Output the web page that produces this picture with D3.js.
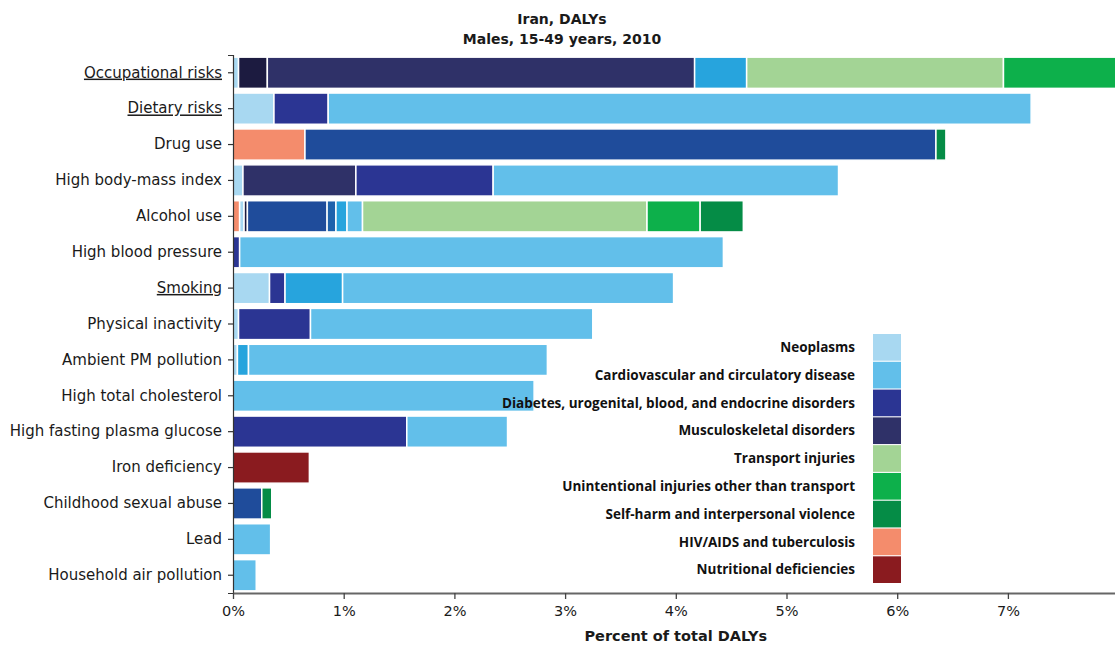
<!DOCTYPE html>
<html>
<head>
<meta charset="utf-8">
<script src="https://cdn.jsdelivr.net/npm/d3@7"></script>
<style>
  html, body { margin: 0; padding: 0; background: #fff; }
  svg { display: block; }
  .tick text { font-family: "DejaVu Sans", sans-serif; }
</style>
</head>
<body>
<svg id="chart" width="1115" height="646"></svg>
<script>
// Risk factors, top to bottom
const risks = [
  "Occupational risks", "Dietary risks", "Drug use", "High body-mass index",
  "Alcohol use", "High blood pressure", "Smoking", "Physical inactivity",
  "Ambient PM pollution", "High total cholesterol", "High fasting plasma glucose",
  "Iron deficiency", "Childhood sexual abuse", "Lead", "Household air pollution"
];
const underlined = ["Occupational risks", "Dietary risks", "Smoking"];

// Percent of total DALYs attributable to each risk, by cause group
const hivTb        = [0, 0, 0.65, 0, 0.06, 0, 0, 0, 0, 0, 0, 0, 0, 0, 0];
const neoplasms    = [0.05, 0.37, 0, 0.09, 0.04, 0, 0.33, 0.05, 0.04, 0, 0, 0, 0, 0, 0];
const otherNcd     = [0.26, 0, 0, 0, 0.03, 0, 0, 0, 0, 0, 0, 0, 0, 0, 0];
const mental       = [0, 0, 5.70, 0, 0.72, 0, 0, 0, 0, 0, 0, 0, 0.26, 0, 0];
const musculo      = [3.86, 0, 0, 1.02, 0, 0, 0, 0, 0, 0, 0, 0, 0, 0, 0];
const diabetes     = [0, 0.49, 0, 1.24, 0, 0.06, 0.14, 0.65, 0, 0, 1.57, 0, 0, 0, 0];
const cirrhosis    = [0, 0, 0, 0, 0.08, 0, 0, 0, 0, 0, 0, 0, 0, 0, 0];
const respiratory  = [0.47, 0, 0, 0, 0.10, 0, 0.52, 0, 0.10, 0, 0, 0, 0, 0, 0];
const cardio       = [0, 6.35, 0, 3.12, 0.14, 4.37, 2.99, 2.55, 2.70, 2.72, 0.91, 0, 0, 0.34, 0.21];
const transport    = [2.32, 0, 0, 0, 2.57, 0, 0, 0, 0, 0, 0, 0, 0, 0, 0];
const unintentional= [1.05, 0, 0, 0, 0.48, 0, 0, 0, 0, 0, 0, 0, 0, 0, 0];
const selfHarm     = [0, 0, 0.09, 0, 0.39, 0, 0, 0, 0, 0, 0, 0, 0.09, 0, 0];
const nutritional  = [0, 0, 0, 0, 0, 0, 0, 0, 0, 0, 0, 0.69, 0, 0, 0];

const xTicks = [0, 1, 2, 3, 4, 5, 6, 7];

// Cause groups in stacking order
const causes = [
  { key: "HIV/AIDS and tuberculosis", values: hivTb, color: "#f48c6c" },
  { key: "Neoplasms", values: neoplasms, color: "#a8d8f1" },
  { key: "Other non-communicable diseases", values: otherNcd, color: "#1c1b40" },
  { key: "Mental and behavioral disorders", values: mental, color: "#1f4c9b" },
  { key: "Musculoskeletal disorders", values: musculo, color: "#2f3168" },
  { key: "Diabetes, urogenital, blood, and endocrine disorders", values: diabetes, color: "#2b3593" },
  { key: "Cirrhosis", values: cirrhosis, color: "#1e62ac" },
  { key: "Chronic respiratory diseases", values: respiratory, color: "#27a4dd" },
  { key: "Cardiovascular and circulatory disease", values: cardio, color: "#62bfea" },
  { key: "Transport injuries", values: transport, color: "#a3d495" },
  { key: "Unintentional injuries other than transport", values: unintentional, color: "#0db04b" },
  { key: "Self-harm and interpersonal violence", values: selfHarm, color: "#058c46" },
  { key: "Nutritional deficiencies", values: nutritional, color: "#8a1b1f" }
];

const legendKeys = [
  "Neoplasms",
  "Cardiovascular and circulatory disease",
  "Diabetes, urogenital, blood, and endocrine disorders",
  "Musculoskeletal disorders",
  "Transport injuries",
  "Unintentional injuries other than transport",
  "Self-harm and interpersonal violence",
  "HIV/AIDS and tuberculosis",
  "Nutritional deficiencies"
];

const table = risks.map((r, i) => {
  const row = { risk: r };
  causes.forEach(c => { row[c.key] = c.values[i]; });
  return row;
});
const colorOf = new Map(causes.map(c => [c.key, c.color]));

const svg = d3.select("#chart");
const plotLeft = 233, plotTop = 55, plotBottom = 593;

const x = d3.scaleLinear().domain([0, 8]).range([plotLeft, plotLeft + 8 * 110.7]);
const y = d3.scaleBand().domain(risks).range([plotTop, plotBottom])
  .paddingInner(0.13).paddingOuter(0.06);

const stack = d3.stack().keys(causes.map(c => c.key));
const series = stack(table);

// Bars
const gBars = svg.append("g");
gBars.selectAll("g")
  .data(series)
  .join("g")
  .attr("fill", d => colorOf.get(d.key))
  .selectAll("rect")
  .data(d => d.filter(s => s[1] - s[0] > 0))
  .join("rect")
  .attr("x", d => x(d[0]))
  .attr("y", d => y(d.data.risk))
  .attr("width", d => x(d[1]) - x(d[0]))
  .attr("height", y.bandwidth())
  .attr("stroke", "#ffffff")
  .attr("stroke-width", 1.5);

// Y axis
const yAxis = svg.append("g")
  .attr("transform", `translate(${plotLeft},0)`)
  .call(d3.axisLeft(y).tickSize(5).tickSizeOuter(5).tickPadding(6));
yAxis.selectAll("text")
  .attr("font-size", 15)
  .attr("fill", "#1a1a1a")
  .style("text-decoration", d => underlined.includes(d) ? "underline" : null);
yAxis.selectAll("path, line").attr("stroke", "#333").attr("stroke-width", 1.2);

// X axis
const xAxis = svg.append("g")
  .attr("transform", `translate(0,${plotBottom})`)
  .call(d3.axisBottom(x).tickValues(xTicks).tickFormat(d => d + "%")
    .tickSize(6).tickSizeOuter(0).tickPadding(7));
xAxis.selectAll("text").attr("font-size", 14.5).attr("fill", "#1a1a1a");
xAxis.select(".domain").attr("stroke", "#666").attr("stroke-width", 2.2);
xAxis.selectAll(".tick line").attr("stroke", "#444").attr("stroke-width", 1.3);

// Axis title
svg.append("text")
  .attr("x", (x.range()[0] + x.range()[1]) / 2)
  .attr("y", 641)
  .attr("text-anchor", "middle")
  .attr("font-family", "DejaVu Sans, sans-serif")
  .attr("font-weight", "bold")
  .attr("font-size", 14.5)
  .attr("fill", "#1a1a1a")
  .text("Percent of total DALYs");

// Title
const title = svg.append("g")
  .attr("font-family", "DejaVu Sans, sans-serif")
  .attr("font-weight", "bold")
  .attr("font-size", 14)
  .attr("fill", "#1a1a1a")
  .attr("text-anchor", "middle");
title.append("text").attr("x", 562).attr("y", 24).text("Iran, DALYs");
title.append("text").attr("x", 562).attr("y", 44).text("Males, 15-49 years, 2010");

// Legend
const ly = d3.scaleBand().domain(legendKeys).range([334, 583]).paddingInner(0.04);
const legend = svg.append("g");
legend.selectAll("rect")
  .data(legendKeys)
  .join("rect")
  .attr("x", 873)
  .attr("y", d => ly(d))
  .attr("width", 28)
  .attr("height", ly.bandwidth())
  .attr("fill", d => colorOf.get(d));
legend.selectAll("text")
  .data(legendKeys)
  .join("text")
  .attr("x", 855)
  .attr("y", d => ly(d) + ly.bandwidth() / 2)
  .attr("dy", "0.35em")
  .attr("text-anchor", "end")
  .attr("font-family", "Open Sans, sans-serif")
  .attr("font-weight", "bold")
  .attr("font-size", 13.5)
  .attr("fill", "#111")
  .text(d => d);
</script>
</body>
</html>
